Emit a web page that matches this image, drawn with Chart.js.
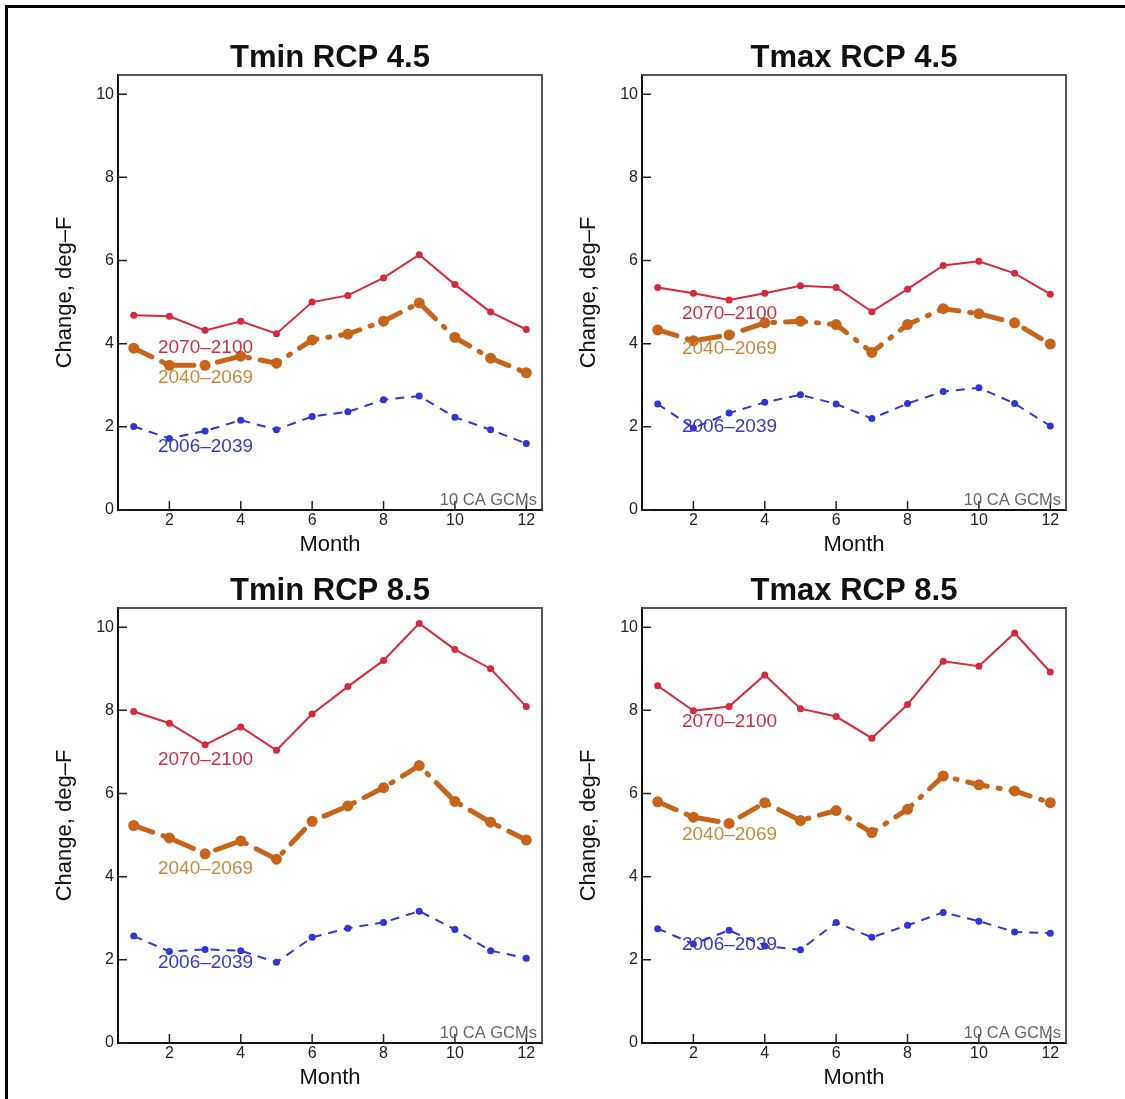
<!DOCTYPE html>
<html>
<head>
<meta charset="utf-8">
<script src="https://cdn.jsdelivr.net/npm/chart.js@4.4.1/dist/chart.umd.min.js"></script>
<style>
  body { margin: 0; background: #fff; }
  #page { position: relative; width: 1125px; height: 1099px; overflow: hidden; background: #fff; }
  #frame { position: absolute; left: 5px; top: 5px; width: 1200px; height: 1200px;
           border-top: 3px solid #000; border-left: 3px solid #000; }
  canvas { position: absolute; }
</style>
</head>
<body>
<div id="page">
  <div id="frame"></div>
  <canvas id="c1" width="560" height="560" style="left:0px;top:0px"></canvas>
  <canvas id="c2" width="560" height="560" style="left:524px;top:0px"></canvas>
  <canvas id="c3" width="560" height="560" style="left:0px;top:533px"></canvas>
  <canvas id="c4" width="560" height="560" style="left:524px;top:533px"></canvas>
</div>
<script>
// valeurs
const months = [1, 2, 3, 4, 5, 6, 7, 8, 9, 10, 11, 12];
const xTicks = [2, 4, 6, 8, 10, 12];
const yTicks = [0, 2, 4, 6, 8, 10];
const periods = ['2070–2100', '2040–2069', '2006–2039'];

const tmin45_2070 = [4.68, 4.66, 4.32, 4.54, 4.24, 5.00, 5.16, 5.58, 6.14, 5.42, 4.76, 4.34];
const tmin45_2040 = [3.89, 3.48, 3.48, 3.70, 3.53, 4.09, 4.23, 4.54, 4.98, 4.15, 3.65, 3.30];
const tmin45_2006 = [2.01, 1.72, 1.90, 2.16, 1.93, 2.25, 2.36, 2.65, 2.74, 2.23, 1.93, 1.60];

const tmax45_2070 = [5.35, 5.21, 5.05, 5.21, 5.39, 5.35, 4.77, 5.31, 5.88, 5.98, 5.69, 5.19];
const tmax45_2040 = [4.33, 4.07, 4.21, 4.50, 4.54, 4.46, 3.79, 4.46, 4.84, 4.72, 4.50, 3.99];
const tmax45_2006 = [2.55, 1.97, 2.33, 2.59, 2.77, 2.55, 2.20, 2.56, 2.85, 2.94, 2.56, 2.02];

const tmin85_2070 = [7.97, 7.69, 7.17, 7.60, 7.04, 7.91, 8.57, 9.20, 10.09, 9.46, 9.00, 8.09];
const tmin85_2040 = [5.23, 4.93, 4.55, 4.86, 4.42, 5.33, 5.70, 6.14, 6.67, 5.81, 5.31, 4.88];
const tmin85_2006 = [2.57, 2.20, 2.25, 2.22, 1.94, 2.54, 2.76, 2.90, 3.17, 2.73, 2.22, 2.04];

const tmax85_2070 = [8.59, 7.99, 8.09, 8.85, 8.04, 7.85, 7.33, 8.14, 9.18, 9.06, 9.86, 8.92];
const tmax85_2040 = [5.80, 5.43, 5.28, 5.78, 5.35, 5.59, 5.06, 5.62, 6.42, 6.21, 6.06, 5.78];
const tmax85_2006 = [2.75, 2.38, 2.71, 2.33, 2.24, 2.90, 2.54, 2.83, 3.14, 2.93, 2.67, 2.64];

Chart.defaults.font.family = '"Liberation Sans", Arial, Helvetica, sans-serif';

const lineColors = ['#d8283b', '#c8641a', '#3035d8'];
const textColors = ['#cc3048', '#c8893d', '#3838c8'];

// cadre haut/droite, ticks vers l'intérieur, étiquettes des périodes
const overlay = {
    id: 'overlay',
    afterDatasetsDraw(chart, args, opts) {
        const {ctx, chartArea: a, scales: {x, y}} = chart;
        ctx.save();
        ctx.strokeStyle = '#555';
        ctx.lineWidth = 2;
        ctx.beginPath();
        ctx.moveTo(a.left, a.top);
        ctx.lineTo(a.right, a.top);
        ctx.lineTo(a.right, a.bottom);
        ctx.stroke();

        ctx.strokeStyle = '#222';
        ctx.lineWidth = 1.5;
        ctx.beginPath();
        yTicks.forEach(v => {
            const py = y.getPixelForValue(v);
            ctx.moveTo(a.left, py);
            ctx.lineTo(a.left + 9, py);
        });
        xTicks.forEach(v => {
            const px = x.getPixelForValue(v);
            ctx.moveTo(px, a.bottom);
            ctx.lineTo(px, a.bottom - 9);
        });
        ctx.stroke();

        ctx.font = '19px "Liberation Sans", Arial, sans-serif';
        ctx.textAlign = 'left';
        ctx.textBaseline = 'middle';
        periods.forEach((t, i) => {
            ctx.fillStyle = textColors[i];
            ctx.fillText(t, x.getPixelForValue(1.68), y.getPixelForValue(opts.labelY[i]));
        });

        ctx.font = '16.5px "Liberation Sans", Arial, sans-serif';
        ctx.fillStyle = '#666';
        ctx.textAlign = 'right';
        ctx.textBaseline = 'alphabetic';
        ctx.fillText('10 CA GCMs', a.right - 5, a.bottom - 5);
        ctx.restore();
    }
};

function makeChart(id, title, series, labelY) {
    const ctx = document.getElementById(id).getContext('2d');
    return new Chart(ctx, {
        type: 'line',
        data: {
            datasets: [{
                label: periods[0],
                data: months.map((m, i) => ({x: m, y: series[0][i]})),
                borderColor: lineColors[0],
                backgroundColor: lineColors[0],
                borderWidth: 2,
                pointRadius: 3.5,
                pointBorderWidth: 0,
            }, {
                label: periods[1],
                data: months.map((m, i) => ({x: m, y: series[1][i]})),
                borderColor: lineColors[1],
                backgroundColor: lineColors[1],
                borderWidth: 5,
                borderDash: [20, 11, 2, 11],
                borderCapStyle: 'round',
                pointRadius: 5.5,
                pointBorderWidth: 0,
            }, {
                label: periods[2],
                data: months.map((m, i) => ({x: m, y: series[2][i]})),
                borderColor: lineColors[2],
                backgroundColor: lineColors[2],
                borderWidth: 2,
                borderDash: [9, 7],
                pointRadius: 3.5,
                pointBorderWidth: 0,
            }]
        },
        options: {
            responsive: false,
            animation: false,
            layout: { padding: { left: 0, right: 18, top: 0, bottom: 0 } },
            plugins: {
                legend: { display: false },
                tooltip: { enabled: false },
                title: {
                    display: true,
                    text: title,
                    fullSize: false,
                    color: '#111',
                    font: { size: 31, weight: 'bold', lineHeight: 1.0 },
                    padding: { top: 43, bottom: 1 }
                },
                overlay: { labelY: labelY }
            },
            scales: {
                x: {
                    type: 'linear',
                    min: 0.56,
                    max: 12.44,
                    afterBuildTicks: s => { s.ticks = xTicks.map(v => ({value: v})); },
                    afterFit: s => { s.height = 50; },
                    grid: { display: false, drawTicks: false },
                    border: { display: true, color: '#111', width: 2 },
                    ticks: { padding: 1, color: '#222', font: { size: 16 }, maxRotation: 0, autoSkip: false },
                    title: { display: true, text: 'Month', color: '#111', font: { size: 22 }, padding: { top: 0, bottom: 1.5 } }
                },
                y: {
                    min: 0,
                    max: 10.46,
                    afterBuildTicks: s => { s.ticks = yTicks.map(v => ({value: v})); },
                    afterFit: s => { s.width = 118; },
                    grid: { display: false, drawTicks: false },
                    border: { display: true, color: '#111', width: 2 },
                    ticks: { padding: 4, color: '#222', font: { size: 16 } },
                    title: { display: true, text: 'Change, deg–F', color: '#111', font: { size: 22 }, padding: { top: 52, bottom: 0 } }
                }
            }
        },
        plugins: [overlay]
    });
}

makeChart('c1', 'Tmin RCP 4.5', [tmin45_2070, tmin45_2040, tmin45_2006], [3.91, 3.18, 1.53]);
makeChart('c2', 'Tmax RCP 4.5', [tmax45_2070, tmax45_2040, tmax45_2006], [4.72, 3.87, 2.00]);
makeChart('c3', 'Tmin RCP 8.5', [tmin85_2070, tmin85_2040, tmin85_2006], [6.82, 4.18, 1.92]);
makeChart('c4', 'Tmax RCP 8.5', [tmax85_2070, tmax85_2040, tmax85_2006], [7.72, 5.00, 2.36]);
</script>
</body>
</html>
